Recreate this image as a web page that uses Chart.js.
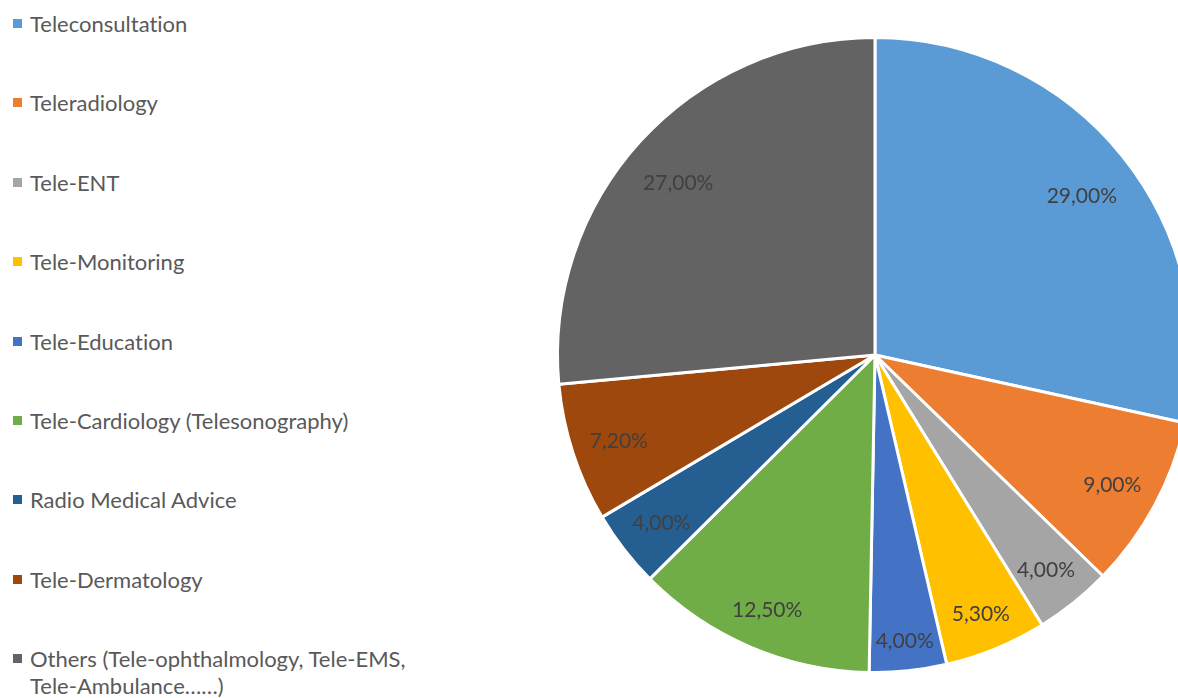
<!DOCTYPE html>
<html>
<head>
<meta charset="utf-8">
<script src="https://cdn.jsdelivr.net/npm/chart.js@4"></script>
<style>
    html, body { margin: 0; padding: 0; width: 1178px; height: 698px; overflow: hidden; background: #fff; }
    #legend { position: absolute; left: 13px; top: 10px; width: 450px; font-family: Lato, "Open Sans", sans-serif; font-size: 22px; color: #595959; font-variant-ligatures: none; }
    #legend .item { position: absolute; left: 0; width: 450px; display: flex; align-items: flex-start; line-height: 27px; }
    #legend .box { width: 9px; height: 9px; margin-top: 9px; margin-right: 8px; flex: none; }
    #legend .txt { max-width: 400px; }
    #wrap { position: absolute; left: 0; top: 0; width: 1750px; height: 698px; }
</style>
</head>
<body>
<div id="legend"></div>
<div id="wrap"><canvas id="pie-chart"></canvas></div>
<script>
const labels = [
    "Teleconsultation",
    "Teleradiology",
    "Tele-ENT",
    "Tele-Monitoring",
    "Tele-Education",
    "Tele-Cardiology (Telesonography)",
    "Radio Medical Advice",
    "Tele-Dermatology",
    "Others (Tele-ophthalmology, Tele-EMS, Tele-Ambulance……)",
];
const values = [29, 9, 4, 5.3, 4, 12.5, 4, 7.2, 27];
const colors = ["#5B9BD5", "#ED7D31", "#A5A5A5", "#FFC000", "#4472C4", "#70AD47", "#255E91", "#9E480E", "#636363"];

const legend = document.getElementById("legend");
labels.forEach((l, i) => {
    const item = document.createElement("div");
    item.className = "item";
    item.style.top = (i * 79.4) + "px";
    item.innerHTML = `<span class="box" style="background:${colors[i]}"></span><span class="txt">${l}</span>`;
    legend.appendChild(item);
});

// percent labels inside the slices (comma decimal), pushed out until the text box nearly touches the rim
const sliceLabels = {
    id: "sliceLabels",
    afterDatasetsDraw(chart) {
        const c = chart.ctx;
        const meta = chart.getDatasetMeta(0);
        c.save();
        c.font = "21px Lato, 'Open Sans', sans-serif";
        c.fillStyle = "#404040";
        c.textAlign = "center";
        c.textBaseline = "middle";
        meta.data.forEach((arc, i) => {
            const p = arc.getProps(["x", "y", "startAngle", "endAngle", "outerRadius"], true);
            const mid = (p.startAngle + p.endAngle) / 2;
            const txt = values[i].toFixed(2).replace(".", ",") + "%";
            const hw = c.measureText(txt).width / 2;
            const hh = 12;
            const D = p.outerRadius * 0.947;
            const ax = Math.abs(Math.cos(mid)), ay = Math.abs(Math.sin(mid));
            const b = hw * ax + hh * ay;
            const d = -b + Math.sqrt(b * b - (hw * hw + hh * hh - D * D));
            const up = Math.sin(mid) < 0 ? 8 : 3;
            c.fillText(txt, p.x + Math.cos(mid) * d, p.y + Math.sin(mid) * d + up);
        });
        c.restore();
    },
};

new Chart(document.getElementById("pie-chart"), {
    type: "pie",
    data: {
        labels,
        datasets: [{
            data: values,
            backgroundColor: colors,
            borderColor: "#ffffff",
            borderWidth: 3,
        }],
    },
    options: {
        responsive: true,
        maintainAspectRatio: false,
        animation: false,
        layout: { padding: { top: 36, bottom: 24 } },
        plugins: {
            legend: { display: false },
            tooltip: { enabled: false },
        },
    },
    plugins: [sliceLabels],
});
</script>
</body>
</html>
